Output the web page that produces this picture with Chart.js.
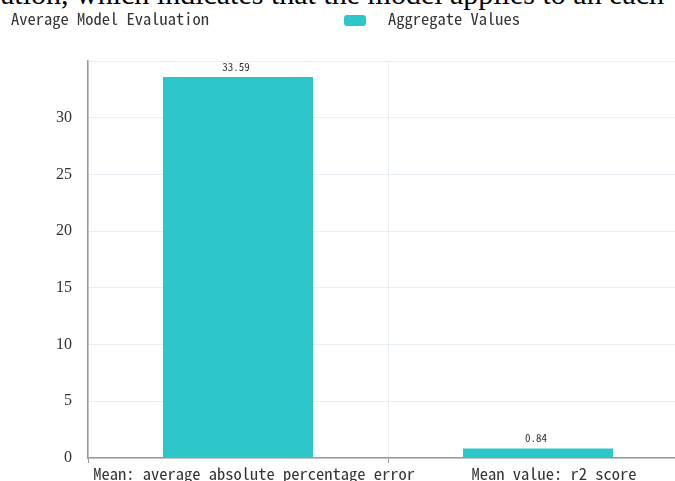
<!DOCTYPE html>
<html>
<head>
<meta charset="utf-8">
<title>Average Model Evaluation</title>
<script src="https://cdn.jsdelivr.net/npm/chart.js@4.4.1/dist/chart.umd.min.js"></script>
<style>
  html, body { margin: 0; padding: 0; background: #fff; overflow: hidden; width: 675px; height: 481px; }
  #wrap { position: relative; width: 675px; height: 481px; overflow: hidden; }
  canvas { position: absolute; left: 0; top: 0; }
  .mono { font-family: 'Noto Sans Mono CJK SC', 'Noto Sans CJK SC', monospace; font-size: 16.5px; color: #333; }
  #lead { position: absolute; left: 1px; top: -22px; white-space: nowrap; font-family: 'Liberation Serif', serif; font-size: 30px; line-height: 31px; color: #000; }
  #title { position: absolute; left: 11px; top: 8px; line-height: 20px; white-space: nowrap; }
  #legend { position: absolute; left: 344px; top: 8px; line-height: 20px; white-space: nowrap; }
  #legend .swatch { position: absolute; left: 0; top: 7px; width: 22px; height: 11px; border-radius: 3px; background: #2ec7c9; }
  #legend .text { position: absolute; left: 44px; top: 0; }
</style>
</head>
<body>
<div id="wrap">
  <div id="lead">ation, which indicates that the model applies to an each</div>
  <canvas id="bars" width="700" height="481"></canvas>
  <div id="title" class="mono">Average Model Evaluation</div>
  <div id="legend" class="mono"><span class="swatch"></span><span class="text" id="legendText"></span></div>
</div>
<script>
const categories = ['Mean: average absolute percentage error', 'Mean value: r2_score'];
const values = [33.59, 0.84];
const seriesName = 'Aggregate Values';
const yMax = 35;
const yStep = 5;

const barColor = '#2ec7c9';
const gridColor = '#e9edf5';
const axisColor = '#9a9a9a';
const monoFont = "'Noto Sans Mono CJK SC', 'Noto Sans CJK SC', monospace";

document.getElementById('legendText').textContent = seriesName;

// value text above each bar
const barValues = {
  id: 'barValues',
  afterDatasetsDraw(chart) {
    const ctx = chart.ctx;
    const meta = chart.getDatasetMeta(0);
    ctx.save();
    ctx.font = '11px ' + monoFont;
    ctx.fillStyle = '#333';
    ctx.textAlign = 'center';
    ctx.textBaseline = 'bottom';
    meta.data.forEach((bar, i) => {
      ctx.fillText(values[i].toFixed(2), bar.x - 2, bar.y - 5);
    });
    ctx.restore();
  }
};

new Chart(document.getElementById('bars').getContext('2d'), {
  type: 'bar',
  data: {
    labels: categories,
    datasets: [{
      label: seriesName,
      data: values,
      backgroundColor: barColor,
      borderWidth: 0,
      barPercentage: 0.5,
      categoryPercentage: 1
    }]
  },
  options: {
    responsive: false,
    animation: false,
    devicePixelRatio: 1,
    layout: { padding: { left: 0, top: 61, right: 12, bottom: 0 } },
    plugins: {
      legend: { display: false },
      title: { display: false },
      tooltip: { enabled: false }
    },
    scales: {
      x: {
        offset: true,
        afterFit: (scale) => { scale.height = 23; },
        grid: { offset: true, color: gridColor, tickColor: axisColor, tickLength: 5 },
        border: { color: axisColor, width: 1.5 },
        ticks: {
          font: { family: monoFont, size: 16.5 },
          color: '#333',
          padding: 1,
          labelOffset: 16,
          maxRotation: 0,
          autoSkip: false
        }
      },
      y: {
        min: 0,
        max: yMax,
        afterFit: (scale) => { scale.width = 88; },
        // hidden tick marks keep the labels off the axis
        grid: { color: gridColor, tickColor: 'rgba(0,0,0,0)', tickLength: 14 },
        border: { color: axisColor, width: 1.5 },
        ticks: {
          stepSize: yStep,
          padding: 2,
          color: '#333',
          font: { family: "'Liberation Serif', serif", size: 16 },
          callback: (v) => (v === yMax ? '' : v)
        }
      }
    }
  },
  plugins: [barValues]
});
</script>
</body>
</html>
